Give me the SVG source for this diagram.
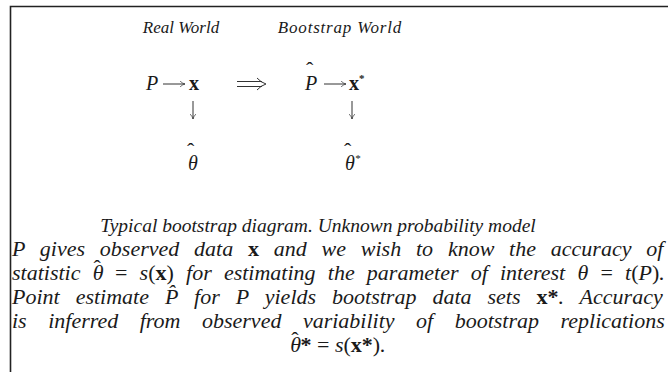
<svg xmlns="http://www.w3.org/2000/svg" width="668" height="372" viewBox="0 0 668 372">
<style>
.it{font-family:"Liberation Serif","Times New Roman",serif;font-style:italic;fill:#1a1a1a}
.rm{font-family:"Liberation Serif","Times New Roman",serif;font-style:normal;font-weight:normal}
.bd{font-family:"Liberation Serif","Times New Roman",serif;font-style:normal;font-weight:bold;fill:#1a1a1a}
.hd{font-size:17px}
.mt{font-size:20px}
.cap{font-size:22px}
.ln{stroke:#333;stroke-width:1;fill:none}
</style>
<defs>
<marker id="ah" viewBox="0 0 10 10" refX="9" refY="5" markerWidth="7" markerHeight="7" markerUnits="userSpaceOnUse" orient="auto">
<path d="M2,1 Q6,4.5 9,5 Q6,5.5 2,9" fill="none" stroke="#333" stroke-width="1"/>
</marker>
</defs>
<g id="frame">
<path d="M10.5,372 V6.5 H668" fill="none" stroke="#222" stroke-width="1.6"/>
</g>
<g id="label-real"><text class="it hd" x="181" y="33" text-anchor="middle">Real World</text></g>
<g id="label-boot"><text class="it hd" x="340" y="33" text-anchor="middle" letter-spacing="0.8">Bootstrap World</text></g>
<g id="node-P"><text class="it mt" x="146" y="90">P</text></g>
<g id="node-x"><text class="bd mt" x="189" y="90">x</text></g>
<g id="node-Phat"><text class="it mt" x="305" y="90">P<tspan class="rm" x="306" y="77" font-size="22">ˆ</tspan></text></g>
<g id="node-xstar"><text class="bd mt" x="349" y="90">x<tspan font-size="11" dy="-8">*</tspan></text></g>
<g id="node-theta"><text class="it mt" x="188" y="170">θ<tspan class="rm" x="187" y="158" font-size="22">ˆ</tspan></text></g>
<g id="node-thetastar"><text class="it mt" x="345" y="170">θ<tspan font-size="11" dy="-8">*</tspan><tspan class="rm" x="344" y="158" font-size="22">ˆ</tspan></text></g>
<g id="connectors">
<line class="ln" x1="163" y1="84" x2="185" y2="84" marker-end="url(#ah)"/>
<line class="ln" x1="324" y1="84" x2="346" y2="84" marker-end="url(#ah)"/>
<line class="ln" x1="193" y1="101" x2="193" y2="119" marker-end="url(#ah)"/>
<line class="ln" x1="352" y1="101" x2="352" y2="119" marker-end="url(#ah)"/>
<path class="ln" d="M237,81.5 H262 M237,86.5 H262"/>
<path class="ln" d="M257,78 Q261,82.5 266,84 Q261,85.5 257,90"/>
</g>
<g id="caption">
<text class="it" font-size="19.5" x="318" y="232" text-anchor="middle">Typical bootstrap diagram. Unknown probability model</text>
<text class="it cap" x="12" y="256" word-spacing="9.3">P gives observed data <tspan class="bd">x</tspan> and we wish to know the accuracy of</text>
<text class="it cap" x="12" y="280" word-spacing="6.7">statistic θ<tspan class="rm" dx="-10" dy="-5">ˆ</tspan><tspan dy="5" dx="2"> </tspan><tspan class="rm">= </tspan>s<tspan class="rm">(</tspan><tspan class="bd">x</tspan><tspan class="rm">)</tspan> for estimating the parameter of interest θ <tspan class="rm">= </tspan>t<tspan class="rm">(</tspan>P<tspan class="rm">)</tspan>.</text>
<text class="it cap" x="12" y="304" word-spacing="10.5">Point estimate P̂ for P yields bootstrap data sets <tspan class="bd">x*</tspan>. Accuracy</text>
<text class="it cap" x="12" y="328" word-spacing="16">is inferred from observed variability of bootstrap replications</text>
<text class="it cap" x="338" y="352" text-anchor="middle">θ<tspan class="rm" dx="-10" dy="-5">ˆ</tspan><tspan class="bd" dy="5" dx="2">*</tspan> <tspan class="rm">= </tspan>s<tspan class="rm">(</tspan><tspan class="bd">x*</tspan><tspan class="rm">)</tspan>.</text>
</g>
</svg>
